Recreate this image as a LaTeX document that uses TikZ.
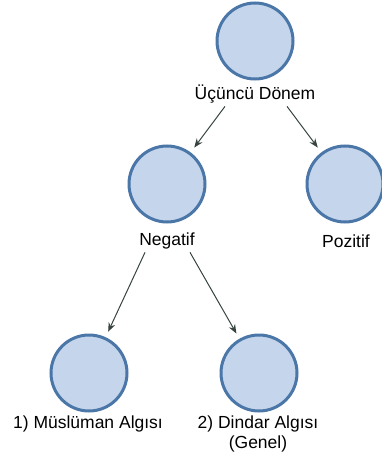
\documentclass[tikz,border=0pt]{standalone}
\usepackage{fontspec}
\setmainfont{Liberation Sans}
\usetikzlibrary{arrows.meta}

\definecolor{cfill}{RGB}{197,213,236}
\definecolor{cline}{RGB}{74,118,168}
\definecolor{aline}{RGB}{55,68,64}

\begin{document}
\begin{tikzpicture}
[   x=1pt,y=-1pt,
    cnode/.style={draw=cline,fill=cfill,line width=3pt,minimum size=76pt,inner sep=0pt,circle},
    tnode/.style={font=\fontsize{17.5}{20}\selectfont,inner sep=0pt,align=center},
    arr/.style={draw=aline,line width=1pt,-{Stealth[length=9pt,width=7pt]},shorten >=6pt},
]
    \useasboundingbox (0,0) rectangle (381,457);

    % circles
    \node[cnode] (c-top) at (255,41) {};
    \node[cnode] (c-neg) at (167,184) {};
    \node[cnode] (c-poz) at (345,184) {};
    \node[cnode] (c-mus) at (89,373) {};
    \node[cnode] (c-din) at (259,373) {};

    % texts under the circles
    \node[tnode] (t-top) at (255,94) {Üçüncü Dönem};
    \node[tnode] (t-neg) at (167,241) {Negatif};
    \node[tnode] (t-poz) at (346,241) {Pozitif};
    \node[tnode] (t-mus) at (88,424) {1) Müslüman Algısı};
    \node[tnode] (t-din) at (258,434) {2) Dindar Algısı\\(Genel)};

    \draw[arr] ([xshift=-30pt,yshift=-3pt]t-top.south) -- (c-neg);
    \draw[arr] ([xshift=32pt,yshift=-3pt]t-top.south) -- (c-poz);
    \draw[arr] ([xshift=-22pt,yshift=-3pt]t-neg.south) -- (c-mus);
    \draw[arr] ([xshift=23pt,yshift=-3pt]t-neg.south) -- (c-din);
\end{tikzpicture}
\end{document}
